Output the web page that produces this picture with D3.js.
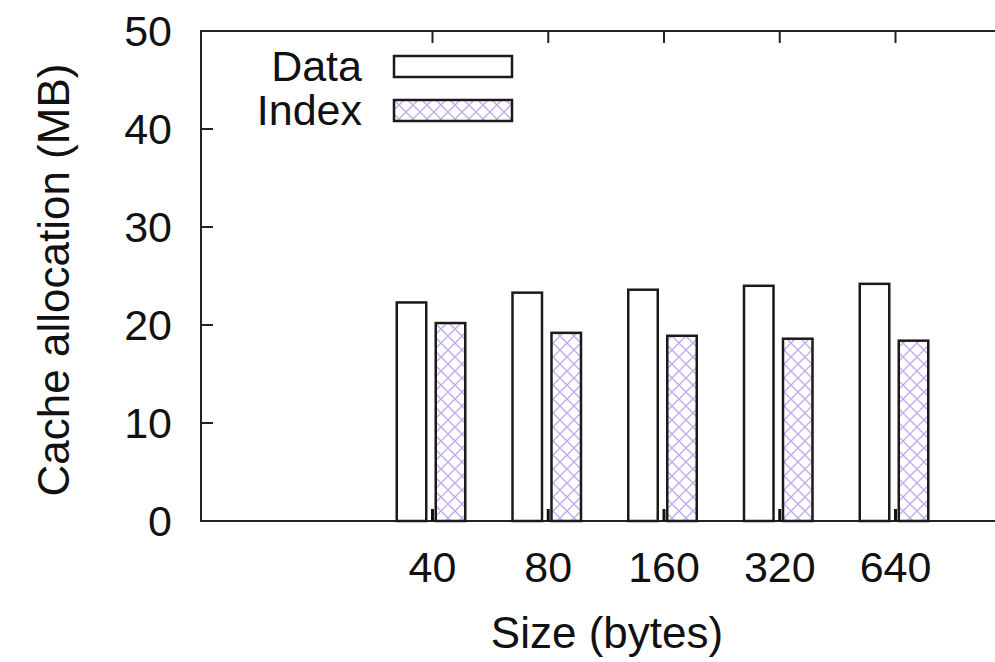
<!DOCTYPE html>
<html>
<head>
<meta charset="utf-8">
<script src="https://cdn.jsdelivr.net/npm/d3@7"></script>
<style>
  body { margin: 0; background: #fff; }
  text { font-family: "Liberation Sans", Arial, sans-serif; fill: #111; }
</style>
</head>
<body>
<div id="chart"></div>
<script>
const sizes = ["40", "80", "160", "320", "640"];
const dataMB = [22.3, 23.3, 23.6, 24.0, 24.2];
const indexMB = [20.2, 19.2, 18.9, 18.6, 18.4];
const yTicks = [0, 10, 20, 30, 40, 50];
const seriesNames = ["Data", "Index"];

const width = 995, height = 662;
const plotLeft = 201, plotTop = 31, plotBottom = 521;
const step = 115.75;

const svg = d3.select("#chart").append("svg")
  .attr("width", width)
  .attr("height", height);

// crosshatch fill for the Index bars
const defs = svg.append("defs");
const pat = defs.append("pattern")
  .attr("id", "hatch")
  .attr("patternUnits", "userSpaceOnUse")
  .attr("width", 14).attr("height", 14);
pat.append("rect").attr("width", 14).attr("height", 14).attr("fill", "#fff");
pat.append("path")
  .attr("d", "M-1,-1 L15,15 M15,-1 L-1,15")
  .attr("stroke", "#c6aaee")
  .attr("stroke-width", 1.4)
  .attr("fill", "none");

const x = d3.scaleLinear().domain([-2, 5]).range([plotLeft, plotLeft + 7 * step]);
const y = d3.scaleLinear().domain([0, 50]).range([plotBottom, plotTop]);

// frame
svg.append("path")
  .attr("d", `M${x(5)},${plotTop} L${plotLeft},${plotTop} L${plotLeft},${plotBottom} L${x(5)},${plotBottom}`)
  .attr("fill", "none")
  .attr("stroke", "#222")
  .attr("stroke-width", 2);

// y ticks and labels
yTicks.forEach(t => {
  if (t > 0 && t < 50) {
    svg.append("line")
      .attr("x1", plotLeft).attr("x2", plotLeft + 12)
      .attr("y1", y(t)).attr("y2", y(t))
      .attr("stroke", "#222").attr("stroke-width", 2);
  }
  svg.append("text")
    .attr("x", 172)
    .attr("y", y(t))
    .attr("dy", "0.36em")
    .attr("text-anchor", "end")
    .attr("font-size", "43px")
    .text(t);
});

// bars
const barW = 32;
const offsets = [-37, 2];
const series = [dataMB, indexMB];
series.forEach((vals, s) => {
  svg.selectAll(".bar" + s)
    .data(vals)
    .enter().append("rect")
    .attr("class", "bar" + s)
    .attr("x", (d, i) => x(i) + offsets[s] + 1.25)
    .attr("width", barW - 2.5)
    .attr("y", d => y(d))
    .attr("height", d => plotBottom - y(d))
    .attr("fill", s === 0 ? "#fff" : "url(#hatch)")
    .attr("stroke", "#1a1a1a")
    .attr("stroke-width", 2.5);
});

// x ticks (bottom and mirrored top) and labels
sizes.forEach((lab, i) => {
  svg.append("line")
    .attr("x1", x(i)).attr("x2", x(i))
    .attr("y1", plotBottom).attr("y2", plotBottom - 12)
    .attr("stroke", "#111").attr("stroke-width", 3);
  svg.append("line")
    .attr("x1", x(i)).attr("x2", x(i))
    .attr("y1", plotTop).attr("y2", plotTop + 12)
    .attr("stroke", "#222").attr("stroke-width", 2);
  svg.append("text")
    .attr("x", x(i))
    .attr("y", 582)
    .attr("text-anchor", "middle")
    .attr("font-size", "43px")
    .text(lab);
});

// axis titles
svg.append("text")
  .attr("x", 607)
  .attr("y", 648)
  .attr("text-anchor", "middle")
  .attr("font-size", "44px")
  .text("Size (bytes)");

svg.append("text")
  .attr("transform", "translate(69,280) rotate(-90)")
  .attr("text-anchor", "middle")
  .attr("font-size", "44px")
  .text("Cache allocation (MB)");

// legend
seriesNames.forEach((name, s) => {
  const cy = 66 + s * 44;
  svg.append("text")
    .attr("x", 362)
    .attr("y", cy)
    .attr("dy", "0.36em")
    .attr("text-anchor", "end")
    .attr("font-size", "43px")
    .text(name);
  svg.append("rect")
    .attr("x", 394).attr("y", cy - 10)
    .attr("width", 118).attr("height", 21)
    .attr("fill", s === 0 ? "#fff" : "url(#hatch)")
    .attr("stroke", "#1a1a1a")
    .attr("stroke-width", 2.5);
});
</script>
</body>
</html>
